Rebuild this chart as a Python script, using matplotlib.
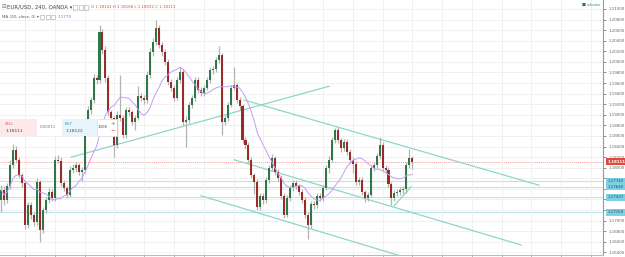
import numpy as np
import pandas as pd
import matplotlib
matplotlib.use("Agg")
import matplotlib.pyplot as plt

plt.rcParams['font.family'] = ['DejaVu Sans']

# ---------------- data (EUR/USD, 240, OANDA) ----------------
closes = [1.1758, 1.1739, 1.1765, 1.1805, 1.1833, 1.1815, 1.1786, 1.1771, 1.1692, 1.1730,
          1.1711, 1.1697, 1.1773, 1.1682, 1.1720, 1.1739, 1.1754, 1.1743, 1.1815, 1.1813,
          1.1771, 1.1762, 1.1749, 1.1796, 1.1799, 1.1805, 1.1792, 1.1796, 1.1881, 1.1909,
          1.1928, 1.1970, 1.1966, 1.2057, 1.2023, 1.1970, 1.1905, 1.1894, 1.1843, 1.1900,
          1.1894, 1.1862, 1.1909, 1.1905, 1.1886, 1.1894, 1.1936, 1.1932, 1.1928, 1.1975,
          1.2019, 1.2038, 1.2064, 1.2032, 1.2019, 1.2000, 1.1962, 1.1951, 1.1932, 1.1966,
          1.1981, 1.1886, 1.1890, 1.1919, 1.1932, 1.1966, 1.1947, 1.1941, 1.1951, 1.1966,
          1.1985, 1.1987, 1.2004, 1.2013, 1.1886, 1.1894, 1.1919, 1.1951, 1.1956, 1.1928,
          1.1917, 1.1852, 1.1843, 1.1815, 1.1786, 1.1773, 1.1726, 1.1747, 1.1739, 1.1777,
          1.1799, 1.1818, 1.1792, 1.1781, 1.1747, 1.1711, 1.1743, 1.1762, 1.1771, 1.1765,
          1.1754, 1.1739, 1.1711, 1.1692, 1.1731, 1.1730, 1.1747, 1.1743, 1.1762, 1.1799,
          1.1815, 1.1852, 1.1871, 1.1852, 1.1837, 1.1849, 1.1830, 1.1815, 1.1807, 1.1773,
          1.1777, 1.1754, 1.1743, 1.1749, 1.1799, 1.1805, 1.1822, 1.1843, 1.1799, 1.1796,
          1.1769, 1.1743, 1.1752, 1.1754, 1.1758, 1.1760, 1.1805, 1.1818, 1.18111]
opens = [1.1739] + closes[:-1]
highs = [1.1768, 1.1765, 1.1771, 1.1815, 1.1845, 1.1841, 1.1820, 1.1790, 1.1775, 1.1736,
         1.1735, 1.1716, 1.1781, 1.1777, 1.1726, 1.1745, 1.1762, 1.1760, 1.1822, 1.1824,
         1.1820, 1.1776, 1.1766, 1.1803, 1.1807, 1.1811, 1.1809, 1.1801, 1.1888, 1.1917,
         1.1934, 1.1977, 1.1975, 1.2070, 1.2062, 1.2030, 1.1975, 1.1910, 1.1898, 1.1907,
         1.1975, 1.1900, 1.1915, 1.1914, 1.1910, 1.1900, 1.1955, 1.1942, 1.1937, 1.1982,
         1.2026, 1.2045, 1.2079, 1.2070, 1.2038, 1.2024, 1.2005, 1.1968, 1.1956, 1.1972,
         1.1990, 1.1986, 1.1897, 1.1925, 1.1938, 1.1972, 1.1971, 1.1953, 1.1957, 1.1972,
         1.1991, 1.1993, 1.2010, 1.2030, 1.2017, 1.1900, 1.1925, 1.1957, 1.1990, 1.1960,
         1.1933, 1.1921, 1.1858, 1.1848, 1.1820, 1.1790, 1.1778, 1.1753, 1.1752, 1.1783,
         1.1805, 1.1826, 1.1823, 1.1797, 1.1786, 1.1752, 1.1749, 1.1768, 1.1777, 1.1776,
         1.1770, 1.1759, 1.1744, 1.1716, 1.1738, 1.1737, 1.1753, 1.1752, 1.1768, 1.1805,
         1.1822, 1.1858, 1.1875, 1.1876, 1.1857, 1.1855, 1.1854, 1.1835, 1.1820, 1.1812,
         1.1783, 1.1782, 1.1758, 1.1755, 1.1805, 1.1811, 1.1828, 1.1858, 1.1848, 1.1805,
         1.1801, 1.1773, 1.1758, 1.1760, 1.1764, 1.1765, 1.1811, 1.1835, 1.1823]
lows = [1.1716, 1.1730, 1.1733, 1.1760, 1.1800, 1.1808, 1.1780, 1.1764, 1.1684, 1.1686,
        1.1703, 1.1690, 1.1692, 1.1660, 1.1676, 1.1714, 1.1733, 1.1737, 1.1738, 1.1808,
        1.1765, 1.1756, 1.1742, 1.1745, 1.1790, 1.1792, 1.1786, 1.1775, 1.1790, 1.1875,
        1.1902, 1.1922, 1.1958, 1.1960, 1.2015, 1.1962, 1.1898, 1.1888, 1.1820, 1.1838,
        1.1888, 1.1856, 1.1857, 1.1898, 1.1880, 1.1871, 1.1890, 1.1926, 1.1921, 1.1922,
        1.1970, 1.2012, 1.2032, 1.2026, 1.2012, 1.1994, 1.1956, 1.1945, 1.1926, 1.1928,
        1.1960, 1.1880, 1.1840, 1.1884, 1.1913, 1.1927, 1.1941, 1.1935, 1.1935, 1.1946,
        1.1960, 1.1978, 1.1980, 1.1998, 1.1862, 1.1880, 1.1888, 1.1914, 1.1946, 1.1922,
        1.1910, 1.1846, 1.1835, 1.1808, 1.1780, 1.1750, 1.1720, 1.1720, 1.1732, 1.1734,
        1.1772, 1.1794, 1.1786, 1.1775, 1.1740, 1.1705, 1.1706, 1.1738, 1.1756, 1.1759,
        1.1748, 1.1733, 1.1705, 1.1666, 1.1686, 1.1722, 1.1724, 1.1737, 1.1738, 1.1757,
        1.1790, 1.1810, 1.1846, 1.1846, 1.1830, 1.1831, 1.1824, 1.1808, 1.1790, 1.1767,
        1.1767, 1.1748, 1.1735, 1.1737, 1.1744, 1.1793, 1.1800, 1.1817, 1.1793, 1.1790,
        1.1763, 1.1730, 1.1737, 1.1746, 1.1748, 1.1750, 1.1752, 1.1800, 1.1797]

ma_window = 13
last_price = 1.18111
level_prices = [1.17742, 1.17640, 1.17437, 1.17159]
level_labels = ["1.17742", "1.17640", "1.17437", "1.17159"]

# trend lines: (start index, start price, end index, end price)
trend_lines = [
    (23.5, 1.1820, 110.1, 1.1954),
    (81.5, 1.1928, 180.5, 1.1767),
    (78.2, 1.1815, 174.5, 1.1654),
    (67.1, 1.1747, 134.2, 1.1633),
    (131.9, 1.1728, 137.6, 1.1764),
]

price_ticks = np.round(np.arange(1.164, 1.2101, 0.002), 3)
header = "EUR/USD, 240, OANDA"
ohlc_text = "O 1.18141 H 1.18168 L 1.18032 C 1.18111"
ma_label = "MA (20, close, 0)"
ma_value = "1.1779"

# ---------------- figure ----------------
W, H = 625, 257
fig = plt.figure(figsize=(W / 100, H / 100), dpi=100)
ax = fig.add_axes([0, 2 / H, 603 / W, 255 / H])
ax.set_facecolor('white')

n = len(closes)
idx = np.arange(n)
o = np.array(opens); c = np.array(closes)
hi = np.array(highs); lo = np.array(lows)
up = c >= o
up_col, dn_col = '#2f7649', '#9b2b26'
colors = np.where(up, up_col, dn_col)

ax.vlines(idx, lo, hi, color='#b3b3b3', lw=0.9, zorder=3)
body_bottom = np.minimum(o, c)
body_h = np.maximum(np.abs(c - o), 0.00008)
ax.bar(idx, body_h, bottom=body_bottom, width=0.68, color=colors, zorder=4, linewidth=0)

ma = pd.Series(closes).rolling(ma_window, min_periods=1).mean()
ax.plot(idx, ma, color='#c79cf2', lw=0.7, zorder=5)

for (x0, y0, x1, y1) in trend_lines:
    ax.plot([x0, x1], [y0, y1], color='#8fd6c4', lw=0.9, zorder=2)

for p in level_prices:
    ax.axhline(p, color='#bfe3ec', lw=0.8, zorder=1)
ax.axhline(last_price, color='#f2a0a0', lw=0.7, ls=(0, (1, 1)), zorder=1)

ax.set_xlim(-0.4, 202)
ax.set_ylim(1.1635, 1.2117)

box_prices = [last_price] + level_prices
tick_labels = []
for t in price_ticks:
    if min(abs(t - b) for b in box_prices) < 0.00085:
        tick_labels.append("")
    else:
        tick_labels.append(f"{t:.5f}")
ax.set_yticks(price_ticks)
ax.set_yticklabels(tick_labels)
ax.yaxis.tick_right()
ax.tick_params(axis='y', labelsize=2.9, colors='#666666', length=2, width=0.5, pad=2)
ax.set_xticks(np.arange(8, 202, 10))
ax.tick_params(axis='x', labelbottom=False, length=2, width=0.5, colors='#999999')
ax.grid(True, color='#efefef', lw=0.6, zorder=0)
for s in ['top', 'left']:
    ax.spines[s].set_visible(False)
ax.spines['right'].set_color('#9a9a9a')
ax.spines['right'].set_linewidth(0.8)
ax.spines['bottom'].set_color('#bbbbbb')
ax.spines['bottom'].set_linewidth(0.8)

ytr = ax.get_yaxis_transform()
ax.text(1.008, last_price, f"{last_price:.5f}", transform=ytr, fontsize=2.9, color='white',
        va='center', ha='left', fontweight='bold',
        bbox=dict(facecolor='#e0483a', edgecolor='none', pad=1.2), zorder=10, clip_on=False)
for p, lab in zip(level_prices, level_labels):
    ax.text(1.008, p, lab, transform=ytr, fontsize=2.9, color='#1d4f66', va='center', ha='left',
            bbox=dict(facecolor='#7fd0e2', edgecolor='none', pad=1.2), zorder=10, clip_on=False)

# header legend
fig.text(1 / W, 1 - 7 / H, "\u229f", fontsize=4, color='#777777', va='center')
fig.text(7 / W, 1 - 7 / H, header + " \u25be", fontsize=3.9, color='#444444', va='center')
for k in range(3):
    fig.patches.append(plt.Rectangle(((73 + k * 5.5) / W, 1 - 9.5 / H), 4 / W, 4.5 / H,
                                     transform=fig.transFigure, fill=False, ec='#bbbbbb', lw=0.5))
fig.text(91 / W, 1 - 7 / H, ohlc_text, fontsize=2.8, color='#e0483a', va='center')
fig.text(2 / W, 1 - 17 / H, ma_label + " \u25be", fontsize=2.9, color='#555555', va='center')
for k in range(3):
    fig.patches.append(plt.Rectangle(((40 + k * 5.5) / W, 1 - 19.2 / H), 4 / W, 4.5 / H,
                                     transform=fig.transFigure, fill=False, ec='#bbbbbb', lw=0.5))
fig.text(58 / W, 1 - 17 / H, ma_value, fontsize=3.0, color='#9966ee', va='center')

# top-right badge
fig.text(585 / W, 1 - 5 / H, "\u25a0", fontsize=3, color='#2f7649', va='center', ha='right')
fig.text(587 / W, 1 - 5 / H, "indicator", fontsize=2.4, color='#3a9a5a', va='center', ha='left')

# trade panel
def box(x, y, w, h, fc, ec='none'):
    fig.patches.append(plt.Rectangle((x / W, 1 - (y + h) / H), w / W, h / H,
                                     transform=fig.transFigure, fc=fc, ec=ec, lw=0.5, zorder=20))

box(0, 119, 37, 17, '#fde8ea')
box(37, 119, 25, 17, '#ffffff')
box(62, 119, 35, 17, '#e6f4fb')
box(97, 119, 20, 17, '#ffffff', '#dddddd')
fig.text(5 / W, 1 - 123.5 / H, "SELL", fontsize=2.8, color='#e06070', va='center', zorder=21)
fig.text(5 / W, 1 - 130.5 / H, "1.18111", fontsize=3.1, color='#444444', va='center', zorder=21)
fig.text(40 / W, 1 - 127.5 / H, "0.00011", fontsize=2.9, color='#777777', va='center', zorder=21)
fig.text(65 / W, 1 - 123.5 / H, "BUY", fontsize=2.8, color='#3b9bd6', va='center', zorder=21)
fig.text(65 / W, 1 - 130.5 / H, "1.18122", fontsize=3.1, color='#444444', va='center', zorder=21)
fig.text(98 / W, 1 - 127.5 / H, "100K", fontsize=2.9, color='#555555', va='center', zorder=21)
fig.text(110 / W, 1 - 123 / H, "+", fontsize=3.8, color='#2f9a5a', va='center', zorder=21)
fig.text(110 / W, 1 - 131 / H, "\u2212", fontsize=3.8, color='#e0483a', va='center', zorder=21)

fig.savefig("out.png", dpi=100, facecolor='white')
